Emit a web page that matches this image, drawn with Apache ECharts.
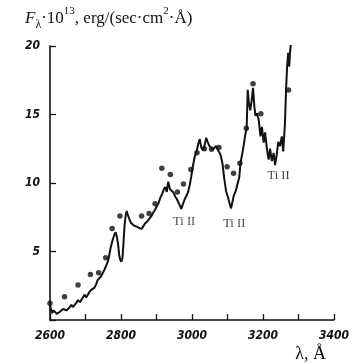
<!DOCTYPE html>
<html>
<head>
<meta charset="utf-8">
<script src="https://cdn.jsdelivr.net/npm/echarts@6/dist/echarts.min.js"></script>
<style>
  html, body { margin: 0; padding: 0; background: #fff; }
  #chart { width: 352px; height: 363px; }
</style>
</head>
<body>
<div id="chart"></div>
<script>
// Observed spectrum: wavelength (Å) and flux F·10^13
const specWave = [2600, 2605, 2610, 2614, 2619, 2623, 2628, 2632, 2637, 2642, 2647, 2651, 2656, 2660, 2665, 2669, 2674, 2679, 2684, 2688, 2693, 2697, 2702, 2706, 2711, 2716, 2720, 2725, 2730, 2734, 2739, 2744, 2748, 2753, 2757, 2762, 2766, 2771, 2776, 2781, 2785, 2789, 2792, 2795, 2798, 2801, 2804, 2807, 2810, 2813, 2816, 2819, 2823, 2828, 2834, 2840, 2846, 2852, 2858, 2863, 2868, 2874, 2880, 2886, 2891, 2896, 2901, 2906, 2911, 2916, 2921, 2925, 2929, 2933, 2938, 2943, 2948, 2953, 2957, 2961, 2966, 2970, 2975, 2980, 2985, 2989, 2994, 2998, 3003, 3008, 3013, 3018, 3022, 3026, 3031, 3036, 3040, 3044, 3049, 3054, 3059, 3063, 3068, 3072, 3077, 3081, 3086, 3091, 3096, 3101, 3106, 3110, 3114, 3118, 3123, 3128, 3133, 3137, 3142, 3146, 3150, 3154, 3157, 3160, 3164, 3168, 3172, 3176, 3179, 3183, 3188, 3193, 3197, 3202, 3206, 3211, 3216, 3220, 3225, 3230, 3234, 3239, 3243, 3248, 3253, 3257, 3262, 3265, 3268, 3271, 3274, 3276, 3279, 3282, 3285];
const specFlux = [1.1, 0.5, 0.7, 0.75, 0.45, 0.4, 0.6, 0.65, 0.8, 0.9, 0.7, 0.75, 0.95, 1.1, 0.95, 1.0, 1.25, 1.45, 1.3, 1.35, 1.65, 1.85, 1.65, 1.75, 2.05, 2.2, 2.15, 2.35, 2.6, 2.9, 3.0, 3.2, 3.4, 3.65, 3.9, 4.2, 4.6, 5.3, 5.8, 6.2, 6.4, 6.0, 5.5, 4.7, 4.4, 4.25, 4.5, 5.6, 6.9, 7.6, 7.95, 7.7, 7.4, 7.1, 6.95, 6.85, 6.8, 6.7, 6.65, 6.85, 7.05, 7.2, 7.4, 7.6, 7.85, 8.05, 8.3, 8.55, 8.95, 9.2, 9.55, 9.7, 9.35, 10.1, 9.55, 9.45, 9.3, 9.0, 8.85, 8.75, 8.35, 8.1, 8.5, 8.85, 9.1, 9.35, 9.9, 10.5, 11.3, 11.95, 12.3, 12.9, 13.2, 12.6, 12.4, 12.8, 13.3, 13.0, 12.7, 12.75, 12.45, 12.55, 12.7, 12.45, 12.25, 12.0, 11.4, 10.3, 9.4, 9.0, 8.5, 8.15, 8.2, 9.1, 9.4, 9.5, 10.4, 11.5, 12.2, 12.8, 13.5, 14.0, 16.8, 15.9, 15.3, 16.0, 16.95, 15.5, 14.9, 15.1, 14.6, 13.4, 14.1, 12.95, 13.7, 12.5, 11.7, 12.5, 11.6, 12.2, 11.3, 12.1, 13.0, 12.7, 13.4, 12.3, 14.4, 16.8, 18.5, 19.5, 18.5, 19.5, 20.3];

// Individual measurements (dots)
const dotWave = [2600, 2641, 2679, 2714, 2737, 2757, 2775, 2797, 2858, 2879, 2896, 2915, 2939, 2959, 2976, 2997, 3014, 3035, 3055, 3076, 3099, 3117, 3135, 3153, 3172, 3194, 3272];
const dotFlux = [1.23, 1.7, 2.55, 3.33, 3.44, 4.55, 6.68, 7.6, 7.6, 7.77, 8.48, 11.07, 10.62, 9.35, 9.93, 10.98, 12.2, 12.5, 12.46, 12.6, 11.19, 10.72, 11.44, 14.0, 17.25, 15.05, 16.78];

// Line identifications
const lineIdText = ['Ti II', 'Ti II', 'Ti II'];
const lineIdWave = [2978, 3119, 3244];
const lineIdFlux = [7.2, 7.05, 10.5];

// Axis ticks
const xTicks = [2600, 2800, 3000, 3200, 3400];
const yTicks = [5, 10, 15, 20];

const tickFont = {
  fontFamily: "'Liberation Sans Narrow', 'DejaVu Sans Condensed', sans-serif",
  fontStyle: 'italic',
  fontWeight: 'bold',
  fontSize: 12,
  color: '#111'
};

const serif = "'Liberation Serif', 'DejaVu Serif', serif";

const chart = echarts.init(document.getElementById('chart'), null, { renderer: 'canvas' });

chart.setOption({
  backgroundColor: '#fff',
  animation: false,
  title: {
    left: 20,
    top: 1,
    text: '{i|F}{sub|λ}{n|·10}{sup|13}{n|, erg/(sec·cm}{sup|2}{n|·Å)}',
    textStyle: {
      fontWeight: 'normal',
      rich: {
        i: { fontFamily: serif, fontStyle: 'italic', fontWeight: 'normal', fontSize: 17, color: '#111', verticalAlign: 'bottom', lineHeight: 21 },
        n: { fontFamily: serif, fontWeight: 'normal', fontSize: 17, color: '#111', verticalAlign: 'bottom', lineHeight: 21 },
        sub: { fontFamily: serif, fontWeight: 'normal', fontSize: 12, color: '#111', verticalAlign: 'bottom', lineHeight: 14, padding: [0, 0, -4, 0] },
        sup: { fontFamily: serif, fontWeight: 'normal', fontSize: 11, color: '#111', verticalAlign: 'top', lineHeight: 11, padding: [0, 0, 6, 0] }
      }
    }
  },
  grid: { left: 50, right: 14, top: 46, bottom: 41 },
  xAxis: {
    type: 'value',
    min: 2600,
    max: 3400,
    interval: 100,
    name: 'λ, Å',
    nameLocation: 'end',
    nameGap: 0,
    nameTextStyle: {
      fontFamily: serif,
      fontSize: 18,
      color: '#111',
      align: 'right',
      verticalAlign: 'top',
      padding: [25, 8, 0, 0]
    },
    axisLine: { lineStyle: { color: '#111', width: 1.6 } },
    axisTick: { inside: true, length: 6, lineStyle: { color: '#111', width: 1.3 } },
    axisLabel: Object.assign({
      margin: 10,
      formatter: v => (xTicks.indexOf(v) >= 0 ? String(v) : '')
    }, tickFont),
    splitLine: { show: false }
  },
  yAxis: {
    type: 'value',
    min: 0,
    max: 20,
    interval: 5,
    axisLine: { show: true, lineStyle: { color: '#111', width: 1.6 } },
    axisTick: { show: true, inside: true, length: 6, lineStyle: { color: '#111', width: 1.3 } },
    axisLabel: Object.assign({
      margin: 10,
      formatter: v => (yTicks.indexOf(v) >= 0 ? String(v) : '')
    }, tickFont),
    splitLine: { show: false }
  },
  series: [
    {
      type: 'line',
      data: specWave.map((w, i) => [w, specFlux[i]]),
      showSymbol: false,
      symbol: 'none',
      lineStyle: { color: '#111', width: 2 },
      z: 2
    },
    {
      type: 'scatter',
      data: dotWave.map((w, i) => [w, dotFlux[i]]),
      symbol: 'circle',
      symbolSize: 5.5,
      itemStyle: { color: '#111' },
      z: 3
    },
    {
      type: 'scatter',
      data: lineIdWave.map((w, i) => ({ value: [w, lineIdFlux[i]], name: lineIdText[i] })),
      symbolSize: 0,
      label: {
        show: true,
        position: 'inside',
        formatter: p => p.name,
        fontFamily: serif,
        fontSize: 12.5,
        color: '#111'
      },
      z: 4
    }
  ]
});
</script>
</body>
</html>
